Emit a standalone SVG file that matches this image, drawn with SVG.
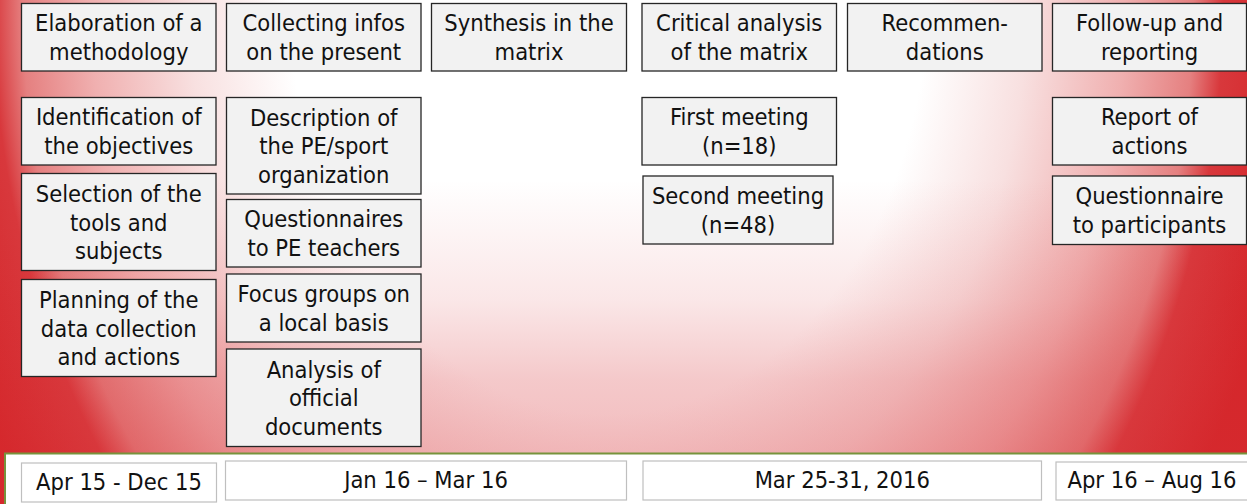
<svg xmlns="http://www.w3.org/2000/svg" width="1247" height="504" viewBox="0 0 1247 504">
<defs>
<radialGradient id="bg" gradientUnits="userSpaceOnUse" cx="608" cy="0" r="904" gradientTransform="translate(608 0) scale(0.769 1) translate(-608 0)">
<stop offset="0" stop-color="#FFFFFF"/>
<stop offset="0.458" stop-color="#FFFFFF"/>
<stop offset="0.602" stop-color="#F8E0E0"/>
<stop offset="0.743" stop-color="#F0B0B0"/>
<stop offset="0.842" stop-color="#E58080"/>
<stop offset="0.885" stop-color="#D8383C"/>
<stop offset="1" stop-color="#D42226"/>
</radialGradient>
<linearGradient id="tint" gradientUnits="userSpaceOnUse" x1="0" y1="180" x2="0" y2="450">
<stop offset="0" stop-color="#D8363B" stop-opacity="0"/>
<stop offset="0.444" stop-color="#D8363B" stop-opacity="0.12"/>
<stop offset="0.74" stop-color="#D8363B" stop-opacity="0.27"/>
<stop offset="1" stop-color="#D8363B" stop-opacity="0.33"/>
</linearGradient>
<style>
.box{fill:#F2F2F2;stroke:#262626;stroke-width:1.3}
.date{fill:#FFFFFF;stroke:#BFBFBF;stroke-width:1.2}
.t{font-family:"DejaVu Sans Condensed","DejaVu Sans",sans-serif;font-stretch:condensed;font-size:23.5px;fill:#111111;text-anchor:middle}
</style>
</defs>
<rect x="0" y="0" width="1247" height="504" fill="url(#bg)"/>
<rect x="0" y="0" width="1247" height="504" fill="url(#tint)"/>
<rect x="5" y="453.5" width="1260" height="60" fill="#FFFFFF" stroke="#77933C" stroke-width="2"/>

<g id="connectors"/>

<g id="n-elaboration"><rect class="box" x="21.5" y="3.5" width="194.5" height="67.5"/><text class="t" x="118.75" y="31.4">Elaboration of a</text><text class="t" x="118.75" y="60.1">methodology</text></g>
<g id="n-collecting"><rect class="box" x="226.5" y="3.5" width="194.5" height="67.5"/><text class="t" x="323.75" y="31.4">Collecting infos</text><text class="t" x="323.75" y="60.1">on the present</text></g>
<g id="n-synthesis"><rect class="box" x="431.5" y="3.5" width="195" height="67.5"/><text class="t" x="529" y="31.4">Synthesis in the</text><text class="t" x="529" y="60.1">matrix</text></g>
<g id="n-critical"><rect class="box" x="642" y="3.5" width="194.5" height="67.5"/><text class="t" x="739.25" y="31.4">Critical analysis</text><text class="t" x="739.25" y="60.1">of the matrix</text></g>
<g id="n-recommendations"><rect class="box" x="847.5" y="3.5" width="194.5" height="67.5"/><text class="t" x="944.75" y="31.4">Recommen-</text><text class="t" x="944.75" y="60.1">dations</text></g>
<g id="n-followup"><rect class="box" x="1052.5" y="3.5" width="194" height="67.5"/><text class="t" x="1149.5" y="31.4">Follow-up and</text><text class="t" x="1149.5" y="60.1">reporting</text></g>

<g id="n-identification"><rect class="box" x="21.5" y="97.5" width="194.5" height="67.5"/><text class="t" x="118.75" y="125.4">Identification of</text><text class="t" x="118.75" y="154.1">the objectives</text></g>
<g id="n-selection"><rect class="box" x="21.5" y="173.5" width="194.5" height="97"/><text class="t" x="118.75" y="201.8">Selection of the</text><text class="t" x="118.75" y="230.5">tools and</text><text class="t" x="118.75" y="259.2">subjects</text></g>
<g id="n-planning"><rect class="box" x="21.5" y="279.5" width="194.5" height="97"/><text class="t" x="118.75" y="307.8">Planning of the</text><text class="t" x="118.75" y="336.5">data collection</text><text class="t" x="118.75" y="365.2">and actions</text></g>

<g id="n-description"><rect class="box" x="226.5" y="97.5" width="194.5" height="96.5"/><text class="t" x="323.75" y="125.55">Description of</text><text class="t" x="323.75" y="154.25">the PE/sport</text><text class="t" x="323.75" y="182.95">organization</text></g>
<g id="n-questionnaires-pe"><rect class="box" x="226.5" y="199.5" width="194.5" height="67.5"/><text class="t" x="323.75" y="227.4">Questionnaires</text><text class="t" x="323.75" y="256.1">to PE teachers</text></g>
<g id="n-focus"><rect class="box" x="226.5" y="274" width="194.5" height="68"/><text class="t" x="323.75" y="302.2">Focus groups on</text><text class="t" x="323.75" y="330.9">a local basis</text></g>
<g id="n-analysis"><rect class="box" x="226.5" y="349" width="194.5" height="97.5"/><text class="t" x="323.75" y="377.55">Analysis of</text><text class="t" x="323.75" y="406.25">official</text><text class="t" x="323.75" y="434.95">documents</text></g>

<g id="n-first-meeting"><rect class="box" x="642" y="97.5" width="194.5" height="67.5"/><text class="t" x="739.25" y="125.4">First meeting</text><text class="t" x="739.25" y="154.1">(n=18)</text></g>
<g id="n-second-meeting"><rect class="box" x="643" y="176" width="190" height="68"/><text class="t" x="738" y="204.2">Second meeting</text><text class="t" x="738" y="232.9">(n=48)</text></g>

<g id="n-report"><rect class="box" x="1052.5" y="97.5" width="194" height="67.5"/><text class="t" x="1149.5" y="125.4">Report of</text><text class="t" x="1149.5" y="154.1">actions</text></g>
<g id="n-questionnaire-participants"><rect class="box" x="1052.5" y="176" width="194" height="68.5"/><text class="t" x="1149.5" y="204.4">Questionnaire</text><text class="t" x="1149.5" y="233.1">to participants</text></g>

<g id="n-date1"><rect class="date" x="21.5" y="463" width="195" height="39" stroke="#A6A6A6"/><text class="t" x="119" y="489.5">Apr 15 - Dec 15</text></g>
<g id="n-date2"><rect class="date" x="225.5" y="461" width="401" height="39"/><text class="t" x="426" y="487.5">Jan 16 – Mar 16</text></g>
<g id="n-date3"><rect class="date" x="643" y="461" width="398.5" height="39"/><text class="t" x="842.25" y="487.5">Mar 25-31, 2016</text></g>
<g id="n-date4"><rect class="date" x="1056" y="462" width="200" height="38"/><text class="t" x="1152" y="488">Apr 16 – Aug 16</text></g>
</svg>
